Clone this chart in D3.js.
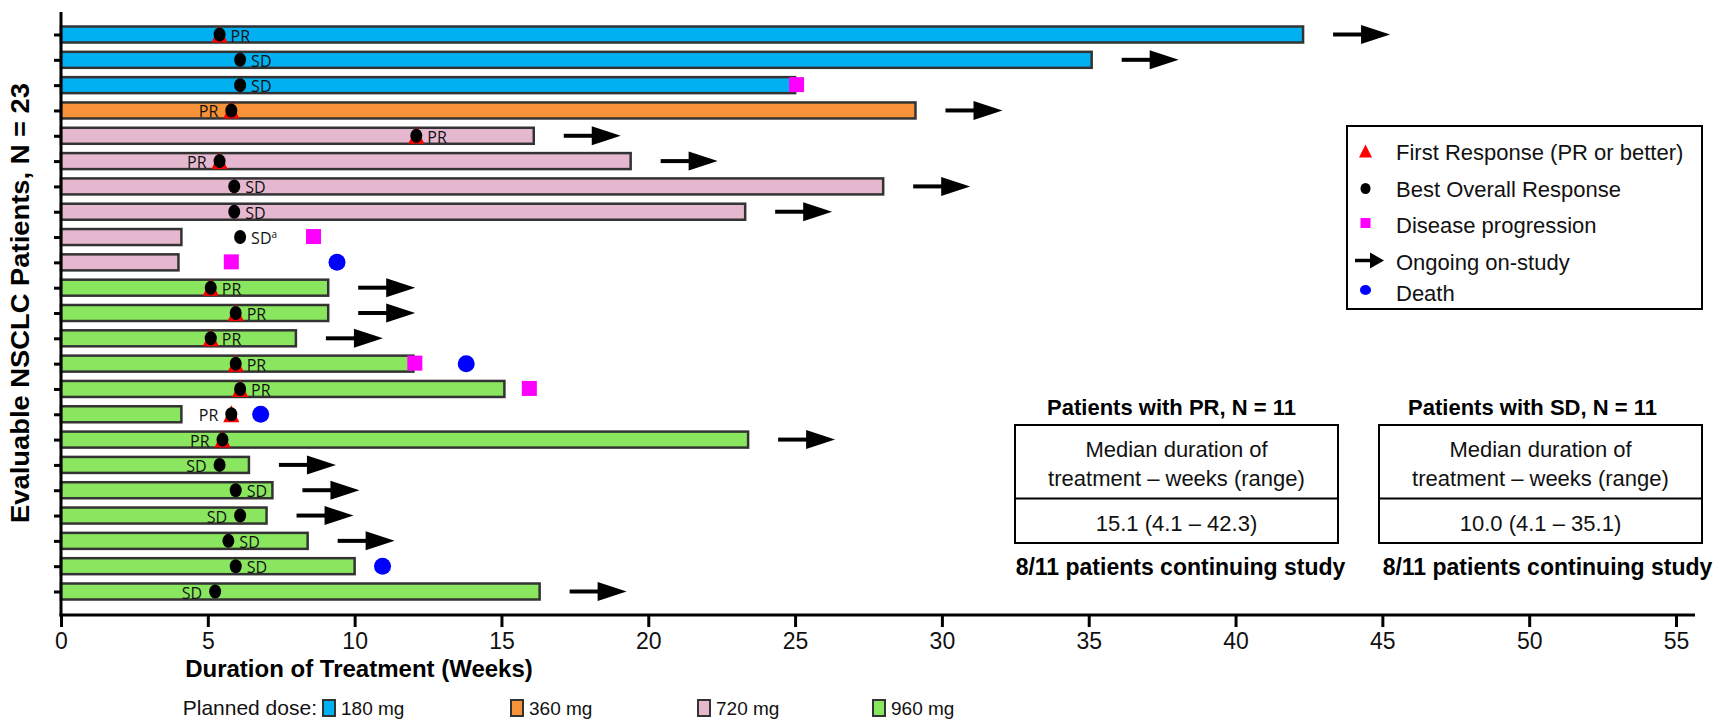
<!DOCTYPE html>
<html>
<head>
<meta charset="utf-8">
<script src="https://cdn.jsdelivr.net/npm/d3@7"></script>
<style>
  html, body { margin: 0; padding: 0; background: #fff; }
  svg { display: block; font-family: "Liberation Sans", Arial, sans-serif; }
</style>
</head>
<body>
<svg id="chart" width="1714" height="720"></svg>
<script>
// ---------------- DATA ----------------
const patients = d3.range(1, 24).map(String);
const doses = ["180 mg","180 mg","180 mg","360 mg","720 mg","720 mg","720 mg","720 mg","720 mg","720 mg",
  "960 mg","960 mg","960 mg","960 mg","960 mg","960 mg","960 mg","960 mg","960 mg","960 mg","960 mg","960 mg","960 mg"];
const durations = [42.3, 35.1, 25.0, 29.1, 16.1, 19.4, 28.0, 23.3, 4.1, 4.0,
  9.1, 9.1, 8.0, 12.0, 15.1, 4.1, 23.4, 6.4, 7.2, 7.0, 8.4, 10.0, 16.3];
const bestResponse = ["PR","SD","SD","PR","PR","PR","SD","SD","SD",null,
  "PR","PR","PR","PR","PR","PR","PR","SD","SD","SD","SD","SD","SD"];
const responseWeeks = [5.4, 6.1, 6.1, 5.8, 12.1, 5.4, 5.9, 5.9, 6.1, null,
  5.1, 5.95, 5.1, 5.95, 6.1, 5.8, 5.5, 5.4, 5.95, 6.1, 5.7, 5.95, 5.25];
const labelSide = ["R","R","R","L","R","L","R","R","R",null,
  "R","R","R","R","R","L","L","L","R","L","R","R","L"];
const labelSuffix = ["","","","","","","","","a",null,"","","","","","","","","","","","",""];
const progressionWeeks = [null,null,25.05,null,null,null,null,null,8.6,5.8,
  null,null,null,12.05,15.95,null,null,null,null,null,null,null,null];
const deathWeeks = [null,null,null,null,null,null,null,null,null,9.4,
  null,null,null,13.8,null,6.8,null,null,null,null,null,10.95,null];
const ongoing = [true,true,false,true,true,true,true,true,false,false,
  true,true,true,false,false,false,true,true,true,true,true,false,true];
const doseLevels = ["180 mg","360 mg","720 mg","960 mg"];
const doseColors = ["#00B0F0","#F79239","#E6B8D0","#8AE65E"];
const xTicks = [0,5,10,15,20,25,30,35,40,45,50,55];
const legendItems = ["First Response (PR or better)","Best Overall Response","Disease progression","Ongoing on-study","Death"];
const tables = [
  {title:"Patients with PR, N = 11", line1:"Median duration of", line2:"treatment \u2013 weeks (range)", value:"15.1 (4.1 \u2013 42.3)", foot:"8/11 patients continuing study"},
  {title:"Patients with SD, N = 11", line1:"Median duration of", line2:"treatment \u2013 weeks (range)", value:"10.0 (4.1 \u2013 35.1)", foot:"8/11 patients continuing study"}
];

// ---------------- CHART ----------------
const svg = d3.select("#chart");
const x = d3.scaleLinear().domain([0, 55]).range([61, 1676]);
const y = d3.scalePoint().domain(patients).range([34.5, 591.5]);
const color = d3.scaleOrdinal().domain(doseLevels).range(doseColors);
const axisY = 615, barH = 16;

const rows = patients.map((p, i) => ({
  p, dose: doses[i], dur: durations[i], resp: bestResponse[i], rw: responseWeeks[i],
  side: labelSide[i], suf: labelSuffix[i], pd: progressionWeeks[i], death: deathWeeks[i], on: ongoing[i]
}));

// bars
svg.append("g").selectAll("rect").data(rows).join("rect")
  .attr("x", x(0)).attr("y", d => y(d.p) - barH/2)
  .attr("width", d => x(d.dur) - x(0)).attr("height", barH)
  .attr("fill", d => color(d.dose)).attr("stroke", "#333").attr("stroke-width", 2.5);

// y axis
const gy = svg.append("g").attr("transform", `translate(${x(0)},0)`)
  .call(d3.axisLeft(y).tickSize(7).tickFormat(""));
gy.select(".domain").remove();
gy.selectAll(".tick line").attr("stroke", "#000").attr("stroke-width", 3);
svg.append("line").attr("x1", x(0)).attr("x2", x(0)).attr("y1", 12).attr("y2", axisY + 1.5)
  .attr("stroke", "#000").attr("stroke-width", 3);

// x axis
const gx = svg.append("g").attr("transform", `translate(0,${axisY})`)
  .call(d3.axisBottom(x).tickValues(xTicks).tickSize(12).tickPadding(6).tickFormat(d3.format("d")));
gx.select(".domain").remove();
gx.selectAll(".tick line").attr("stroke", "#000").attr("stroke-width", 3);
gx.selectAll(".tick text").attr("font-size", 23).attr("fill", "#111")
  .attr("font-family", "'Liberation Sans', Arial, sans-serif");
svg.append("line").attr("x1", x(0) - 1.5).attr("x2", 1695).attr("y1", axisY).attr("y2", axisY)
  .attr("stroke", "#000").attr("stroke-width", 3);

// axis titles
svg.append("text").attr("x", 359).attr("y", 677).attr("text-anchor", "middle")
  .attr("font-size", 24).attr("font-weight", "bold").text("Duration of Treatment (Weeks)");
svg.append("text").attr("transform", "translate(29,303) rotate(-90)").attr("text-anchor", "middle")
  .attr("font-size", 26).attr("font-weight", "bold")
  .attr("textLength", 440).attr("lengthAdjust", "spacingAndGlyphs")
  .text("Evaluable NSCLC Patients, N = 23");

// arrows (ongoing)
function arrow(g, x0, yc, lineLen, headLen, halfH, sw) {
  g.append("line").attr("x1", x0).attr("x2", x0 + lineLen + 2).attr("y1", yc).attr("y2", yc)
    .attr("stroke", "#000").attr("stroke-width", sw);
  g.append("path").attr("d", `M${x0+lineLen},${yc-halfH}L${x0+lineLen+headLen},${yc}L${x0+lineLen},${yc+halfH}Z`)
    .attr("fill", "#000");
}
const ga = svg.append("g");
rows.filter(d => d.on).forEach(d => arrow(ga, x(d.dur) + 30, y(d.p), 28, 29, 9.5, 4));

// progression squares
svg.append("g").selectAll("rect").data(rows.filter(d => d.pd != null)).join("rect")
  .attr("x", d => x(d.pd) - 7.5).attr("y", d => y(d.p) - 8).attr("width", 15).attr("height", 15)
  .attr("fill", "#FF00FF");

// death circles
svg.append("g").selectAll("ellipse").data(rows.filter(d => d.death != null)).join("ellipse")
  .attr("cx", d => x(d.death)).attr("cy", d => y(d.p)).attr("rx", 8.5).attr("ry", 8.5)
  .attr("fill", "#0000FF");

// first response triangles (PR)
svg.append("g").selectAll("path").data(rows.filter(d => d.resp === "PR")).join("path")
  .attr("d", d => { const cx = x(d.rw), cy = y(d.p); return `M${cx-8},${cy+8}L${cx+8},${cy+8}L${cx},${cy-9}Z`; })
  .attr("fill", "#FF0000");

// best response dots
svg.append("g").selectAll("ellipse").data(rows.filter(d => d.resp)).join("ellipse")
  .attr("cx", d => x(d.rw)).attr("cy", d => y(d.p)).attr("rx", 6).attr("ry", 7)
  .attr("fill", "#000");

// response labels
const lbl = svg.append("g").selectAll("text").data(rows.filter(d => d.resp)).join("text")
  .attr("x", d => d.side === "R" ? x(d.rw) + 11 : x(d.rw) - 13)
  .attr("y", d => y(d.p) + 7)
  .attr("text-anchor", d => d.side === "R" ? "start" : "end")
  .attr("font-family", "'Liberation Sans Narrow', 'Open Sans', Arial, sans-serif")
  .attr("font-size", 16).attr("fill", "#111")
  .text(d => d.resp);
lbl.filter(d => d.suf).append("tspan").attr("font-size", 10).attr("dy", -6).text(d => d.suf);

// ---------------- LEGEND ----------------
const lg = svg.append("g");
lg.append("rect").attr("x", 1347).attr("y", 126).attr("width", 355).attr("height", 183)
  .attr("fill", "none").attr("stroke", "#000").attr("stroke-width", 2);
const ly = [151.5, 188.5, 225, 261.5, 293];
lg.selectAll("text").data(legendItems).join("text")
  .attr("x", 1396).attr("y", (d, i) => ly[i] + 8).attr("font-size", 22).attr("fill", "#111").text(d => d);
lg.append("path").attr("d", `M1359,${ly[0]+6}L1372,${ly[0]+6}L1365.5,${ly[0]-7}Z`).attr("fill", "#FF0000");
lg.append("ellipse").attr("cx", 1365.5).attr("cy", ly[1]).attr("rx", 5).attr("ry", 5.5).attr("fill", "#000");
lg.append("rect").attr("x", 1360.5).attr("y", ly[2] - 7).attr("width", 10).attr("height", 10).attr("fill", "#FF00FF");
arrow(lg, 1355, ly[3] - 1, 15, 14, 8, 3.5);
lg.append("ellipse").attr("cx", 1365.5).attr("cy", ly[4] - 3).attr("rx", 5.5).attr("ry", 5).attr("fill", "#0000FF");

// ---------------- TABLES ----------------
const tb = [{x0:1015, x1:1338}, {x0:1379, x1:1702}];
tables.forEach((t, i) => {
  const g = svg.append("g");
  const cx = (tb[i].x0 + tb[i].x1) / 2;
  g.append("text").attr("x", cx - (i ? 8 : 5)).attr("y", 415).attr("text-anchor", "middle")
    .attr("font-size", 22).attr("font-weight", "bold").text(t.title);
  g.append("rect").attr("x", tb[i].x0).attr("y", 425).attr("width", tb[i].x1 - tb[i].x0).attr("height", 118)
    .attr("fill", "none").attr("stroke", "#000").attr("stroke-width", 2);
  g.append("line").attr("x1", tb[i].x0).attr("x2", tb[i].x1).attr("y1", 498.5).attr("y2", 498.5)
    .attr("stroke", "#000").attr("stroke-width", 2);
  g.append("text").attr("x", cx).attr("y", 457).attr("text-anchor", "middle").attr("font-size", 22).attr("fill", "#111").text(t.line1);
  g.append("text").attr("x", cx).attr("y", 486).attr("text-anchor", "middle").attr("font-size", 22).attr("fill", "#111").text(t.line2);
  g.append("text").attr("x", cx).attr("y", 531).attr("text-anchor", "middle").attr("font-size", 22).attr("fill", "#111").text(t.value);
  g.append("text").attr("x", cx + (i ? 7 : 4)).attr("y", 575).attr("text-anchor", "middle")
    .attr("font-size", 23).attr("font-weight", "bold").text(t.foot);
});

// ---------------- DOSE LEGEND ----------------
const dl = svg.append("g");
dl.append("text").attr("x", 317).attr("y", 715).attr("text-anchor", "end").attr("font-size", 21).attr("fill", "#111").text("Planned dose:");
const dx = [323, 511, 698, 873];
doseLevels.forEach((d, i) => {
  dl.append("rect").attr("x", dx[i]).attr("y", 700).attr("width", 12).attr("height", 16)
    .attr("fill", color(d)).attr("stroke", "#333").attr("stroke-width", 2);
  dl.append("text").attr("x", dx[i] + 18).attr("y", 715).attr("font-size", 19).attr("fill", "#111").text(d);
});
</script>
</body>
</html>
